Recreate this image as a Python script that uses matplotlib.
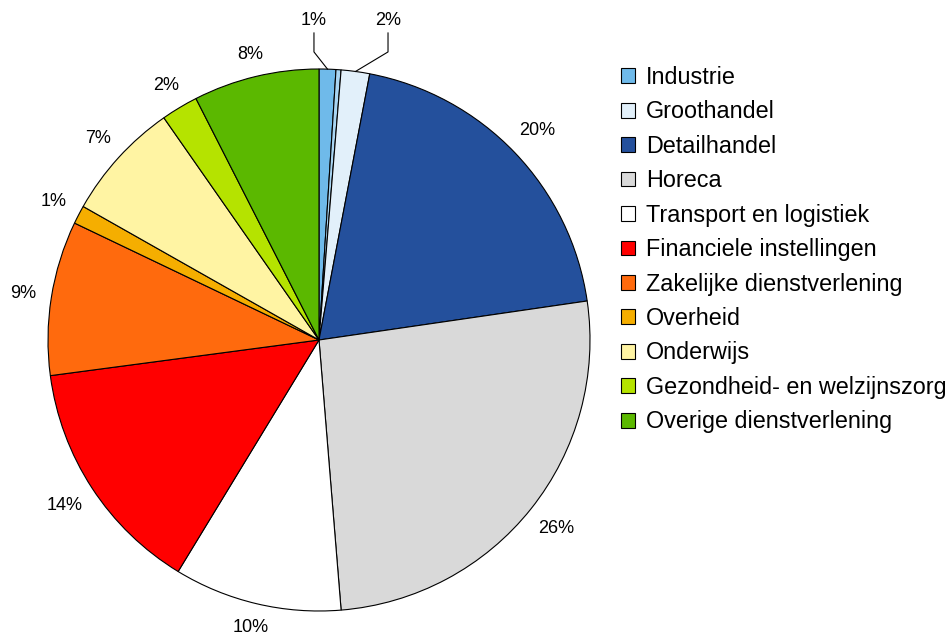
import matplotlib
matplotlib.use("Agg")
import numpy as np
import matplotlib.pyplot as plt
from matplotlib.patches import Patch

plt.rcParams['font.family'] = ['Liberation Sans', 'DejaVu Sans']

# sector shares (%), clockwise from 12 o'clock
sectors = ['Industrie', '', 'Groothandel', 'Detailhandel', 'Horeca',
           'Transport en logistiek', 'Financiele instellingen',
           'Zakelijke dienstverlening', 'Overheid', 'Onderwijs',
           'Gezondheid- en welzijnszorg', 'Overige dienstverlening']
shares = [1.0, 0.3, 1.7, 19.7, 26.0, 10.0, 14.2, 9.2, 1.1, 7.1, 2.2, 7.5]
pct_labels = ['1%', '', '2%', '20%', '26%', '10%', '14%', '9%', '1%', '7%', '2%', '8%']
colors = ['#6FBAEA', '#A9D5F2', '#E2F0FA', '#24509C', '#D9D9D9', '#FFFFFF',
          '#FF0000', '#FF6A0D', '#F5AE00', '#FFF4A3', '#B5E300', '#5BB800']

fig = plt.figure(figsize=(9.48, 6.37), dpi=100)
ax = fig.add_axes([(319 - 271) / 948, (637 - 611) / 637, 542 / 948, 542 / 637])

wedges, _ = ax.pie(shares, colors=colors, startangle=90, counterclock=False,
                   radius=1, wedgeprops=dict(edgecolor='black', linewidth=0.8))
ax.set_xlim(-1, 1)
ax.set_ylim(-1, 1)
ax.set_aspect('equal')
ax.axis('off')

outside = []
for i, w in enumerate(wedges):
    if not pct_labels[i]:
        continue
    mid = np.deg2rad((w.theta1 + w.theta2) / 2)
    ex, ey = np.cos(mid), np.sin(mid)
    if shares[i] < 2 and i < 3:
        # small top slices get a leader line
        tx = ex + (-0.05 if i == 0 else 0.12)
        ax.plot([ex, tx, tx], [ey, 1.063, 1.133], color='black', lw=0.8,
                clip_on=False)
        ax.text(tx, 1.18, pct_labels[i], ha='center', va='center', fontsize=13)
    else:
        t = ax.text(ex, ey, pct_labels[i], ha='center', va='center', fontsize=13)
        outside.append((t, ex, ey))

# push each label out so its box sits just clear of the rim
fig.canvas.draw()
r_px = ax.transData.transform((1, 0))[0] - ax.transData.transform((0, 0))[0]
for t, ex, ey in outside:
    bb = t.get_window_extent()
    hw, hh = bb.width / 2 / r_px, bb.height / 2 / r_px
    d = 1.055 + abs(ex) * hw + abs(ey) * hh * 0.6
    t.set_position((d * ex, d * ey))

handles = [Patch(facecolor=c, edgecolor='black', linewidth=0.8)
           for s, c in zip(sectors, colors) if s]
names = [s for s in sectors if s]
fig.legend(handles, names, loc='upper left', bbox_to_anchor=(621 / 948, 1 - 66 / 637),
           frameon=False, fontsize=16.8, handlelength=0.6, handleheight=0.6,
           handletextpad=0.47, labelspacing=0.49, borderpad=0, borderaxespad=0)

fig.savefig('out.png', dpi=100)
